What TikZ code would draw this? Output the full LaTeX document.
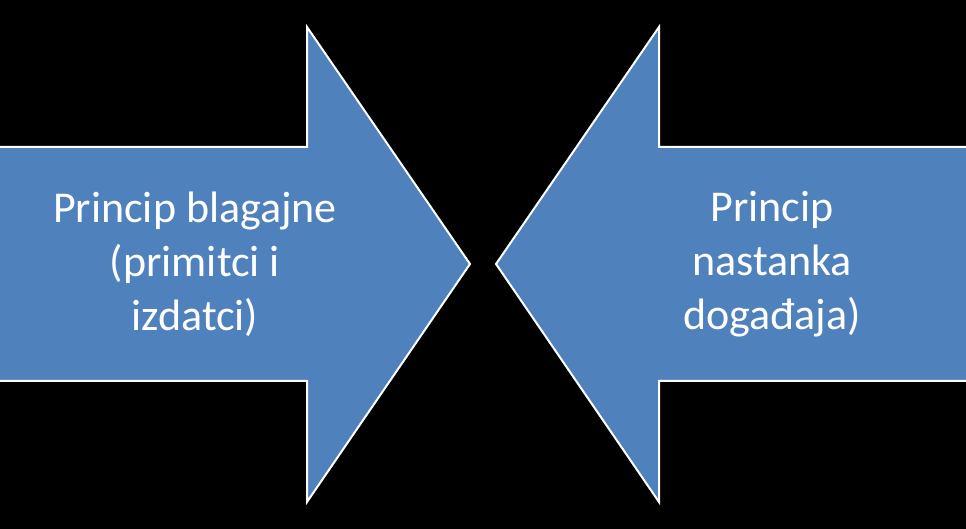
\documentclass[tikz,border=0pt]{standalone}
\usepackage{fontspec}
\setmainfont{Carlito}
\definecolor{arrowblue}{HTML}{4F81BD}
\begin{document}
\begin{tikzpicture}[x=1pt,y=1pt,
  arrowshape/.style={fill=arrowblue,draw=white,line width=2pt,line join=miter},
  lbl/.style={text=white,align=center,font=\fontsize{44}{54}\selectfont}]
\fill[black] (0,0) rectangle (966,529);
\useasboundingbox (0,0) rectangle (966,529);
\draw[arrowshape] (-3,382) -- (307,382) -- (307,502) -- (470,265) -- (307,27) -- (307,148) -- (-3,148) -- cycle;
\draw[arrowshape] (969,382) -- (659,382) -- (659,502) -- (496,265) -- (659,27) -- (659,148) -- (969,148) -- cycle;
\node[lbl] (left) at (195,265) {Princip blagajne\\(primitci i\\izdatci)};
\node[lbl] (right) at (772,265) {Princip\\nastanka\\događaja)};
\end{tikzpicture}
\end{document}
